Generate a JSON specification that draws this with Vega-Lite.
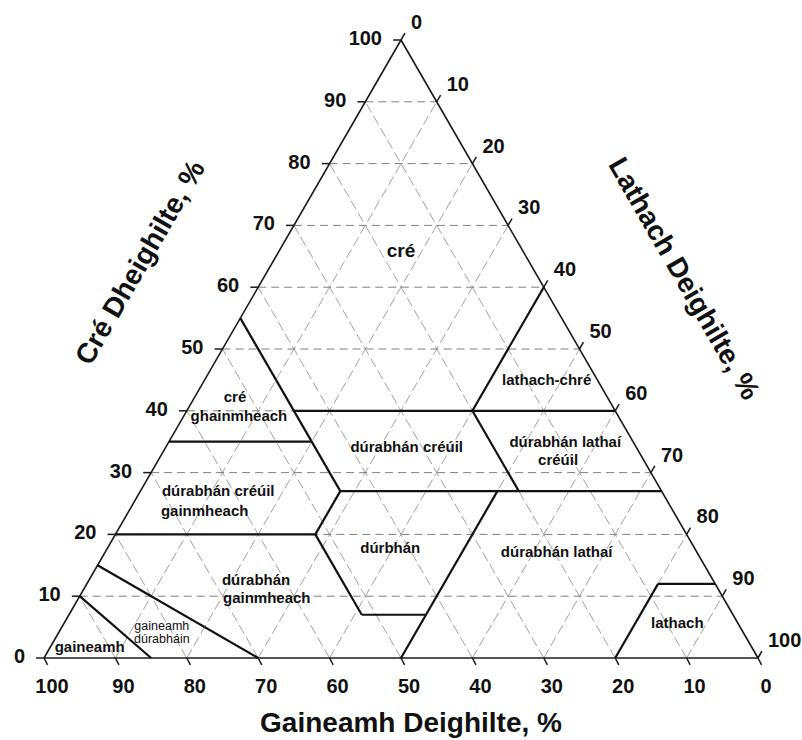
{
  "$schema": "https://vega.github.io/schema/vega-lite/v6.json",
  "width": 714,
  "height": 618,
  "autosize": "none",
  "padding": {"left": 44, "top": 40, "right": 44, "bottom": 82},
  "background": "white",
  "config": {"view": {"stroke": null}},
  "datasets": {
    "lines": [
      {"kind": "gh", "x": 5, "y": 10, "x2": 95, "y2": 10},
      {"kind": "gh", "x": 10, "y": 20, "x2": 90, "y2": 20},
      {"kind": "gh", "x": 15, "y": 30, "x2": 85, "y2": 30},
      {"kind": "gh", "x": 20, "y": 40, "x2": 80, "y2": 40},
      {"kind": "gh", "x": 25, "y": 50, "x2": 75, "y2": 50},
      {"kind": "gh", "x": 30, "y": 60, "x2": 70, "y2": 60},
      {"kind": "gh", "x": 35, "y": 70, "x2": 65, "y2": 70},
      {"kind": "gh", "x": 40, "y": 80, "x2": 60, "y2": 80},
      {"kind": "gh", "x": 45, "y": 90, "x2": 55, "y2": 90},
      {"kind": "gs", "x": 90, "y": 0, "x2": 45, "y2": 90},
      {"kind": "gs", "x": 80, "y": 0, "x2": 40, "y2": 80},
      {"kind": "gs", "x": 70, "y": 0, "x2": 35, "y2": 70},
      {"kind": "gs", "x": 60, "y": 0, "x2": 30, "y2": 60},
      {"kind": "gs", "x": 50, "y": 0, "x2": 25, "y2": 50},
      {"kind": "gs", "x": 40, "y": 0, "x2": 20, "y2": 40},
      {"kind": "gs", "x": 30, "y": 0, "x2": 15, "y2": 30},
      {"kind": "gs", "x": 20, "y": 0, "x2": 10, "y2": 20},
      {"kind": "gs", "x": 10, "y": 0, "x2": 5, "y2": 10},
      {"kind": "gs", "x": 10, "y": 0, "x2": 55, "y2": 90},
      {"kind": "gs", "x": 20, "y": 0, "x2": 60, "y2": 80},
      {"kind": "gs", "x": 30, "y": 0, "x2": 65, "y2": 70},
      {"kind": "gs", "x": 40, "y": 0, "x2": 70, "y2": 60},
      {"kind": "gs", "x": 50, "y": 0, "x2": 75, "y2": 50},
      {"kind": "gs", "x": 60, "y": 0, "x2": 80, "y2": 40},
      {"kind": "gs", "x": 70, "y": 0, "x2": 85, "y2": 30},
      {"kind": "gs", "x": 80, "y": 0, "x2": 90, "y2": 20},
      {"kind": "gs", "x": 90, "y": 0, "x2": 95, "y2": 10},
      {"kind": "outline", "x": 0, "y": 0, "x2": 100, "y2": 0},
      {"kind": "outline", "x": 0, "y": 0, "x2": 50, "y2": 100},
      {"kind": "outline", "x": 100, "y": 0, "x2": 50, "y2": 100},
      {"kind": "boundary", "x": 27.5, "y": 55, "x2": 41.5, "y2": 27},
      {"kind": "boundary", "x": 41.5, "y": 27, "x2": 38, "y2": 20},
      {"kind": "boundary", "x": 38, "y": 20, "x2": 44.5, "y2": 7},
      {"kind": "boundary", "x": 44.5, "y": 7, "x2": 53.5, "y2": 7},
      {"kind": "boundary", "x": 63.5, "y": 27, "x2": 50, "y2": 0},
      {"kind": "boundary", "x": 35, "y": 40, "x2": 80, "y2": 40},
      {"kind": "boundary", "x": 70, "y": 60, "x2": 60, "y2": 40},
      {"kind": "boundary", "x": 60, "y": 40, "x2": 66.5, "y2": 27},
      {"kind": "boundary", "x": 41.5, "y": 27, "x2": 86.5, "y2": 27},
      {"kind": "boundary", "x": 17.5, "y": 35, "x2": 37.5, "y2": 35},
      {"kind": "boundary", "x": 10, "y": 20, "x2": 38, "y2": 20},
      {"kind": "boundary", "x": 7.5, "y": 15, "x2": 30, "y2": 0},
      {"kind": "boundary", "x": 5, "y": 10, "x2": 15, "y2": 0},
      {"kind": "boundary", "x": 80, "y": 0, "x2": 86, "y2": 12},
      {"kind": "boundary", "x": 86, "y": 12, "x2": 94, "y2": 12}
    ],
    "ticks": [
      {"axis": "bottom", "label": "100", "x": 0, "y": 0, "x2": 0.5, "y2": -1.1},
      {"axis": "bottom", "label": "90", "x": 10, "y": 0, "x2": 10.5, "y2": -1.1},
      {"axis": "bottom", "label": "80", "x": 20, "y": 0, "x2": 20.5, "y2": -1.1},
      {"axis": "bottom", "label": "70", "x": 30, "y": 0, "x2": 30.5, "y2": -1.1},
      {"axis": "bottom", "label": "60", "x": 40, "y": 0, "x2": 40.5, "y2": -1.1},
      {"axis": "bottom", "label": "50", "x": 50, "y": 0, "x2": 50.5, "y2": -1.1},
      {"axis": "bottom", "label": "40", "x": 60, "y": 0, "x2": 60.5, "y2": -1.1},
      {"axis": "bottom", "label": "30", "x": 70, "y": 0, "x2": 70.5, "y2": -1.1},
      {"axis": "bottom", "label": "20", "x": 80, "y": 0, "x2": 80.5, "y2": -1.1},
      {"axis": "bottom", "label": "10", "x": 90, "y": 0, "x2": 90.5, "y2": -1.1},
      {"axis": "bottom", "label": "0", "x": 100, "y": 0, "x2": 100.5, "y2": -1.1},
      {"axis": "left", "label": "0", "x": 0, "y": 0, "x2": -1.1, "y2": 0},
      {"axis": "left", "label": "10", "x": 5, "y": 10, "x2": 3.9, "y2": 10},
      {"axis": "left", "label": "20", "x": 10, "y": 20, "x2": 8.9, "y2": 20},
      {"axis": "left", "label": "30", "x": 15, "y": 30, "x2": 13.9, "y2": 30},
      {"axis": "left", "label": "40", "x": 20, "y": 40, "x2": 18.9, "y2": 40},
      {"axis": "left", "label": "50", "x": 25, "y": 50, "x2": 23.9, "y2": 50},
      {"axis": "left", "label": "60", "x": 30, "y": 60, "x2": 28.9, "y2": 60},
      {"axis": "left", "label": "70", "x": 35, "y": 70, "x2": 33.9, "y2": 70},
      {"axis": "left", "label": "80", "x": 40, "y": 80, "x2": 38.9, "y2": 80},
      {"axis": "left", "label": "90", "x": 45, "y": 90, "x2": 43.9, "y2": 90},
      {"axis": "left", "label": "100", "x": 50, "y": 100, "x2": 48.9, "y2": 100},
      {"axis": "right", "label": "0", "x": 50, "y": 100, "x2": 50.55, "y2": 101.1},
      {"axis": "right", "label": "10", "x": 55, "y": 90, "x2": 55.55, "y2": 91.1},
      {"axis": "right", "label": "20", "x": 60, "y": 80, "x2": 60.55, "y2": 81.1},
      {"axis": "right", "label": "30", "x": 65, "y": 70, "x2": 65.55, "y2": 71.1},
      {"axis": "right", "label": "40", "x": 70, "y": 60, "x2": 70.55, "y2": 61.1},
      {"axis": "right", "label": "50", "x": 75, "y": 50, "x2": 75.55, "y2": 51.1},
      {"axis": "right", "label": "60", "x": 80, "y": 40, "x2": 80.55, "y2": 41.1},
      {"axis": "right", "label": "70", "x": 85, "y": 30, "x2": 85.55, "y2": 31.1},
      {"axis": "right", "label": "80", "x": 90, "y": 20, "x2": 90.55, "y2": 21.1},
      {"axis": "right", "label": "90", "x": 95, "y": 10, "x2": 95.55, "y2": 11.1},
      {"axis": "right", "label": "100", "x": 100, "y": 0, "x2": 100.55, "y2": 1.1}
    ],
    "labels": [
      {"kind": "big", "label": "cré", "x": 50.0, "y": 65.9},
      {"kind": "main", "label": "cré", "x": 26.75, "y": 42.2},
      {"kind": "main", "label": "ghainmheach", "x": 27.3, "y": 39.2},
      {"kind": "main", "label": "lathach-chré", "x": 70.4, "y": 45.0},
      {"kind": "main", "label": "dúrabhán créúil", "x": 50.8, "y": 34.1},
      {"kind": "main", "label": "dúrabhán lathaí", "x": 73.0, "y": 35.0},
      {"kind": "main", "label": "créúil", "x": 72.0, "y": 32.0},
      {"kind": "main", "label": "dúrabhán créúil", "x": 24.4, "y": 27.0},
      {"kind": "main", "label": "gainmheach", "x": 22.5, "y": 23.8},
      {"kind": "main", "label": "dúrbhán", "x": 48.5, "y": 17.8},
      {"kind": "main", "label": "dúrabhán lathaí", "x": 71.8, "y": 17.2},
      {"kind": "main", "label": "dúrabhán", "x": 29.7, "y": 12.6},
      {"kind": "main", "label": "gainmheach", "x": 31.2, "y": 9.7},
      {"kind": "small", "label": "gaineamh", "x": 16.5, "y": 5.2},
      {"kind": "small", "label": "dúrabháin", "x": 16.5, "y": 3.1},
      {"kind": "main", "label": "gaineamh", "x": 6.4, "y": 1.8},
      {"kind": "main", "label": "lathach", "x": 88.7, "y": 5.7}
    ],
    "titles": [
      {"axis": "bottom", "label": "Gaineamh Deighilte, %", "x": 51.4, "y": -12.0},
      {"axis": "left", "label": "Cré Dheighilte, %", "x": 13.6, "y": 63.9},
      {"axis": "right", "label": "Lathach Deighilte, %", "x": 89.5, "y": 61.3}
    ]
  },
  "layer": [
    {
      "data": {"name": "lines"},
      "transform": [{"filter": "datum.kind == 'gs'"}],
      "mark": {"type": "rule", "stroke": "#a3a3a3", "strokeWidth": 1, "strokeDash": [10, 4]},
      "encoding": {
        "x": {"field": "x", "type": "quantitative", "scale": {"domain": [0, 100], "nice": false, "zero": false}, "axis": null},
        "y": {"field": "y", "type": "quantitative", "scale": {"domain": [0, 100], "nice": false, "zero": false}, "axis": null},
        "x2": {"field": "x2"},
        "y2": {"field": "y2"}
      }
    },
    {
      "data": {"name": "lines"},
      "transform": [{"filter": "datum.kind == 'gh'"}],
      "mark": {"type": "rule", "stroke": "#808080", "strokeWidth": 1, "strokeDash": [8, 5]},
      "encoding": {
        "x": {"field": "x", "type": "quantitative"},
        "y": {"field": "y", "type": "quantitative"},
        "x2": {"field": "x2"},
        "y2": {"field": "y2"}
      }
    },
    {
      "data": {"name": "lines"},
      "transform": [{"filter": "datum.kind == 'outline'"}],
      "mark": {"type": "rule", "stroke": "#1a1a1a", "strokeWidth": 1.6},
      "encoding": {
        "x": {"field": "x", "type": "quantitative"},
        "y": {"field": "y", "type": "quantitative"},
        "x2": {"field": "x2"},
        "y2": {"field": "y2"}
      }
    },
    {
      "data": {"name": "lines"},
      "transform": [{"filter": "datum.kind == 'boundary'"}],
      "mark": {"type": "rule", "stroke": "#111111", "strokeWidth": 2.2},
      "encoding": {
        "x": {"field": "x", "type": "quantitative"},
        "y": {"field": "y", "type": "quantitative"},
        "x2": {"field": "x2"},
        "y2": {"field": "y2"}
      }
    },
    {
      "data": {"name": "ticks"},
      "mark": {"type": "rule", "stroke": "#1a1a1a", "strokeWidth": 1.5},
      "encoding": {
        "x": {"field": "x", "type": "quantitative"},
        "y": {"field": "y", "type": "quantitative"},
        "x2": {"field": "x2"},
        "y2": {"field": "y2"}
      }
    },
    {
      "data": {"name": "ticks"},
      "transform": [{"filter": "datum.axis == 'bottom'"}],
      "mark": {"type": "text", "font": "Liberation Sans", "fontWeight": "bold", "fontSize": 20, "align": "center", "baseline": "middle", "dx": 8, "dy": 29, "color": "#111111"},
      "encoding": {
        "x": {"field": "x", "type": "quantitative"},
        "y": {"field": "y", "type": "quantitative"},
        "text": {"field": "label"}
      }
    },
    {
      "data": {"name": "ticks"},
      "transform": [{"filter": "datum.axis == 'left'"}],
      "mark": {"type": "text", "font": "Liberation Sans", "fontWeight": "bold", "fontSize": 20, "align": "right", "baseline": "middle", "dx": -19, "dy": -1, "color": "#111111"},
      "encoding": {
        "x": {"field": "x", "type": "quantitative"},
        "y": {"field": "y", "type": "quantitative"},
        "text": {"field": "label"}
      }
    },
    {
      "data": {"name": "ticks"},
      "transform": [{"filter": "datum.axis == 'right'"}],
      "mark": {"type": "text", "font": "Liberation Sans", "fontWeight": "bold", "fontSize": 20, "align": "left", "baseline": "middle", "dx": 10, "dy": -17, "color": "#111111"},
      "encoding": {
        "x": {"field": "x", "type": "quantitative"},
        "y": {"field": "y", "type": "quantitative"},
        "text": {"field": "label"}
      }
    },
    {
      "data": {"name": "labels"},
      "transform": [{"filter": "datum.kind == 'main'"}],
      "mark": {"type": "text", "font": "Liberation Sans", "fontWeight": "bold", "fontSize": 15, "align": "center", "baseline": "middle", "color": "#111111"},
      "encoding": {
        "x": {"field": "x", "type": "quantitative"},
        "y": {"field": "y", "type": "quantitative"},
        "text": {"field": "label"}
      }
    },
    {
      "data": {"name": "labels"},
      "transform": [{"filter": "datum.kind == 'big'"}],
      "mark": {"type": "text", "font": "Liberation Sans", "fontWeight": "bold", "fontSize": 19, "align": "center", "baseline": "middle", "color": "#111111"},
      "encoding": {
        "x": {"field": "x", "type": "quantitative"},
        "y": {"field": "y", "type": "quantitative"},
        "text": {"field": "label"}
      }
    },
    {
      "data": {"name": "labels"},
      "transform": [{"filter": "datum.kind == 'small'"}],
      "mark": {"type": "text", "font": "Liberation Sans", "fontWeight": "normal", "fontSize": 12.5, "align": "center", "baseline": "middle", "color": "#111111"},
      "encoding": {
        "x": {"field": "x", "type": "quantitative"},
        "y": {"field": "y", "type": "quantitative"},
        "text": {"field": "label"}
      }
    },
    {
      "data": {"name": "titles"},
      "transform": [{"filter": "datum.axis == 'bottom'"}],
      "mark": {"type": "text", "font": "Liberation Sans", "fontWeight": "bold", "fontSize": 28, "align": "center", "baseline": "alphabetic", "color": "#111111"},
      "encoding": {
        "x": {"field": "x", "type": "quantitative"},
        "y": {"field": "y", "type": "quantitative"},
        "text": {"field": "label"}
      }
    },
    {
      "data": {"name": "titles"},
      "transform": [{"filter": "datum.axis == 'left'"}],
      "mark": {"type": "text", "font": "Liberation Sans", "fontWeight": "bold", "fontSize": 28, "align": "center", "baseline": "middle", "angle": 300, "color": "#111111"},
      "encoding": {
        "x": {"field": "x", "type": "quantitative"},
        "y": {"field": "y", "type": "quantitative"},
        "text": {"field": "label"}
      }
    },
    {
      "data": {"name": "titles"},
      "transform": [{"filter": "datum.axis == 'right'"}],
      "mark": {"type": "text", "font": "Liberation Sans", "fontWeight": "bold", "fontSize": 28, "align": "center", "baseline": "middle", "angle": 60, "color": "#111111"},
      "encoding": {
        "x": {"field": "x", "type": "quantitative"},
        "y": {"field": "y", "type": "quantitative"},
        "text": {"field": "label"}
      }
    }
  ]
}
